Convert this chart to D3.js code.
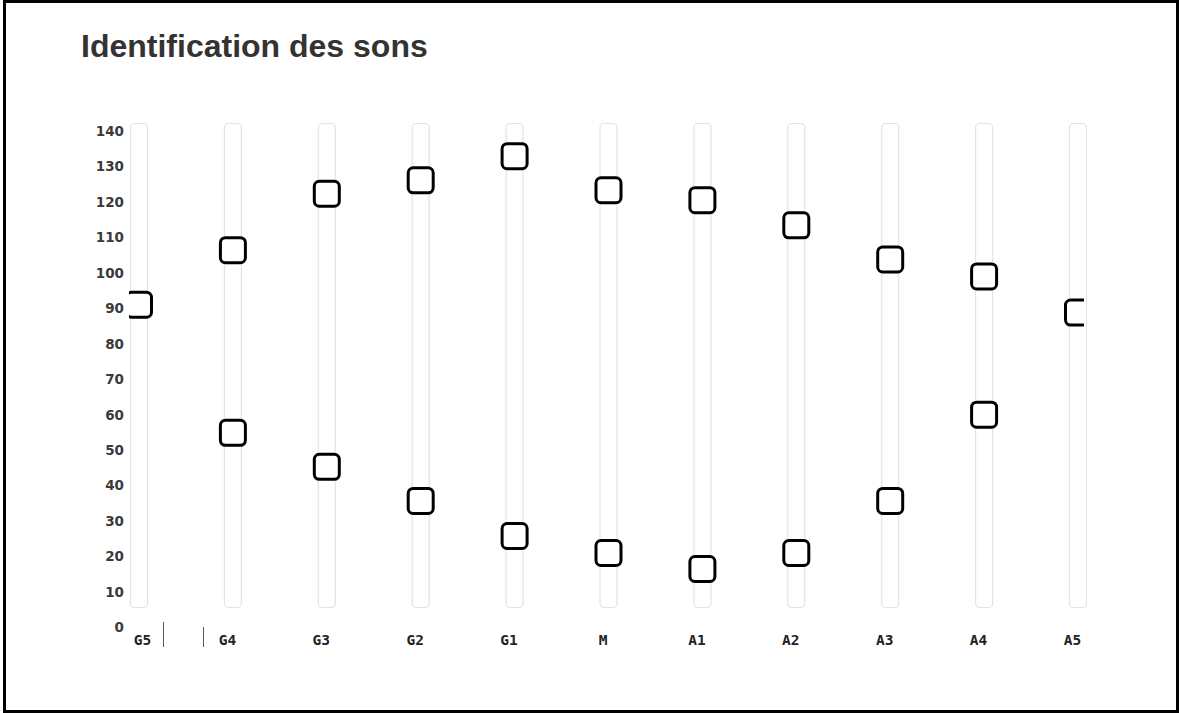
<!DOCTYPE html>
<html>
<head>
<meta charset="utf-8">
<script src="https://cdn.jsdelivr.net/npm/d3@7"></script>
<style>
  body { margin: 0; background: #fff; }
  svg { display: block; }
</style>
</head>
<body>
<svg id="chart"></svg>
<script>

// sounds (columns) and the two slider handles for each
let sons = ["G5", "G4", "G3", "G2", "G1", "M", "A1", "A2", "A3", "A4", "A5"];
let haut = [91, 106.4, 122.3, 126.1, 132.9, 123.3, 120.5, 113.4, 103.8, 99, 88.8];
let bas = [null, 54.9, 45.3, 35.7, 25.8, 21, 16.5, 21, 35.7, 60, null];
let yTicks = [0, 10, 20, 30, 40, 50, 60, 70, 80, 90, 100, 110, 120, 130, 140];

const W = 1179, H = 713;

let svg = d3.select("#chart").attr("width", W).attr("height", H);

// frame
svg.append("rect")
    .attr("x", 4.5).attr("y", 1.5)
    .attr("width", W - 6).attr("height", H - 3)
    .attr("fill", "none")
    .attr("stroke", "#000")
    .attr("stroke-width", 3);

// title
svg.append("text")
    .attr("x", 81).attr("y", 57)
    .attr("font-family", "'Liberation Sans', Arial, sans-serif")
    .attr("font-weight", "bold")
    .attr("font-size", 32)
    .attr("fill", "#333")
    .text("Identification des sons");

// scales
let x = d3.scalePoint().domain(sons).range([139, 1078]);
let y = d3.scaleLinear().domain([0, 140]).range([627.5, 131]);

// y axis labels
let yAxis = svg.append("g")
    .attr("transform", "translate(124,0)")
    .call(d3.axisLeft(y).tickValues(yTicks).tickSize(0).tickPadding(0));
yAxis.select(".domain").remove();
yAxis.selectAll("text")
    .attr("font-family", "'DejaVu Sans', Verdana, sans-serif")
    .attr("font-weight", "bold")
    .attr("font-size", 13.5)
    .attr("fill", "#3a3a3a");

// slider tracks
svg.selectAll("rect.track")
    .data(sons)
    .enter()
    .append("rect")
    .attr("class", "track")
    .attr("x", d => x(d) - 8.5)
    .attr("y", 123.5)
    .attr("width", 17)
    .attr("height", 484)
    .attr("rx", 4)
    .attr("fill", "#fff")
    .attr("stroke", "#e3e3e3")
    .attr("stroke-width", 1.2);

// clip for the handles (they get cut at the ends)
svg.append("clipPath").attr("id", "plot")
  .append("rect")
    .attr("x", x(sons[0]) - 10).attr("y", 100)
    .attr("width", 1084 - (x(sons[0]) - 10))
    .attr("height", 540);

let plot = svg.append("g").attr("clip-path", "url(#plot)");

// handles
let handles = [];
sons.forEach((s, i) => {
    if (haut[i] != null) handles.push({ son: s, v: haut[i] });
    if (bas[i] != null) handles.push({ son: s, v: bas[i] });
});

plot.selectAll("rect.handle")
    .data(handles)
    .enter()
    .append("rect")
    .attr("class", "handle")
    .attr("x", d => x(d.son) - 12.5)
    .attr("y", d => y(d.v) - 12.5)
    .attr("width", 25)
    .attr("height", 25)
    .attr("rx", 5)
    .attr("fill", "#fff")
    .attr("stroke", "#000")
    .attr("stroke-width", 3);

// x labels
let xAxis = svg.append("g")
    .attr("transform", "translate(-6,635)")
    .call(d3.axisBottom(x).tickSize(0).tickPadding(0));
xAxis.select(".domain").remove();
xAxis.selectAll("text")
    .attr("font-family", "'DejaVu Sans Mono', monospace")
    .attr("font-weight", "bold")
    .attr("font-size", 14.5)
    .attr("fill", "#222");
xAxis.select("text").attr("dx", 9); // G5 sits a little further right

// the two little separators next to G5 / G4
let seps = [[163, 622], [203, 627]];
svg.selectAll("line.sep")
    .data(seps)
    .enter()
    .append("line")
    .attr("x1", d => d[0] + 0.5).attr("x2", d => d[0] + 0.5)
    .attr("y1", d => d[1]).attr("y2", 647)
    .attr("stroke", "#555")
    .attr("stroke-width", 1);

</script>
</body>
</html>
